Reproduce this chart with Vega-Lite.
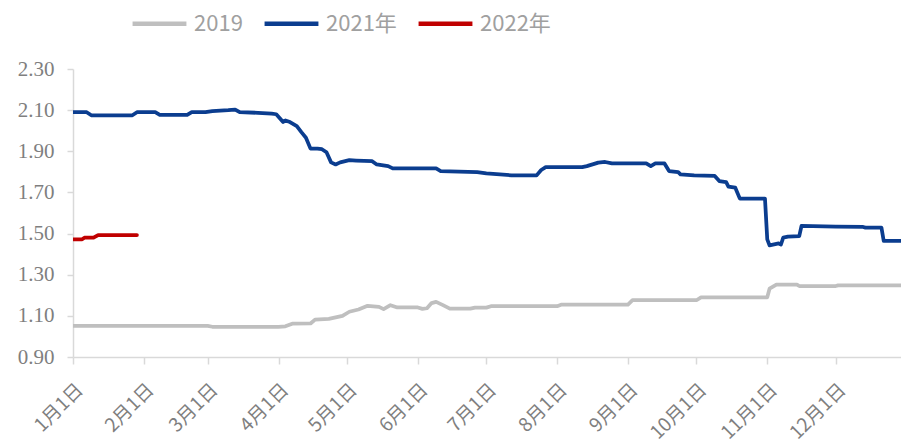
{
  "$schema": "https://vega.github.io/schema/vega-lite/v6.json",
  "width": 829,
  "height": 288,
  "autosize": {"type": "none"},
  "padding": {"left": 73, "top": 69, "right": 0, "bottom": 87},
  "background": "white",
  "config": {"view": {"stroke": null}},
  "data": {
    "values": [
      {"series": "2019", "date": "2021-01-01", "value": 1.051},
      {"series": "2019", "date": "2021-03-01", "value": 1.051},
      {"series": "2019", "date": "2021-03-03", "value": 1.047},
      {"series": "2019", "date": "2021-04-01", "value": 1.047},
      {"series": "2019", "date": "2021-04-04", "value": 1.049},
      {"series": "2019", "date": "2021-04-07", "value": 1.062},
      {"series": "2019", "date": "2021-04-15", "value": 1.063},
      {"series": "2019", "date": "2021-04-17", "value": 1.082},
      {"series": "2019", "date": "2021-04-23", "value": 1.085},
      {"series": "2019", "date": "2021-04-29", "value": 1.1},
      {"series": "2019", "date": "2021-05-02", "value": 1.12},
      {"series": "2019", "date": "2021-05-06", "value": 1.131},
      {"series": "2019", "date": "2021-05-10", "value": 1.149},
      {"series": "2019", "date": "2021-05-15", "value": 1.144},
      {"series": "2019", "date": "2021-05-17", "value": 1.133},
      {"series": "2019", "date": "2021-05-20", "value": 1.152},
      {"series": "2019", "date": "2021-05-23", "value": 1.141},
      {"series": "2019", "date": "2021-06-01", "value": 1.141},
      {"series": "2019", "date": "2021-06-03", "value": 1.134},
      {"series": "2019", "date": "2021-06-05", "value": 1.137},
      {"series": "2019", "date": "2021-06-07", "value": 1.162},
      {"series": "2019", "date": "2021-06-09", "value": 1.168},
      {"series": "2019", "date": "2021-06-12", "value": 1.152},
      {"series": "2019", "date": "2021-06-15", "value": 1.135},
      {"series": "2019", "date": "2021-06-24", "value": 1.135},
      {"series": "2019", "date": "2021-06-26", "value": 1.14},
      {"series": "2019", "date": "2021-07-01", "value": 1.14},
      {"series": "2019", "date": "2021-07-03", "value": 1.147},
      {"series": "2019", "date": "2021-08-01", "value": 1.147},
      {"series": "2019", "date": "2021-08-03", "value": 1.155},
      {"series": "2019", "date": "2021-09-01", "value": 1.155},
      {"series": "2019", "date": "2021-09-03", "value": 1.176},
      {"series": "2019", "date": "2021-10-01", "value": 1.176},
      {"series": "2019", "date": "2021-10-03", "value": 1.19},
      {"series": "2019", "date": "2021-11-01", "value": 1.19},
      {"series": "2019", "date": "2021-11-02", "value": 1.232},
      {"series": "2019", "date": "2021-11-05", "value": 1.252},
      {"series": "2019", "date": "2021-11-14", "value": 1.252},
      {"series": "2019", "date": "2021-11-15", "value": 1.245},
      {"series": "2019", "date": "2021-12-01", "value": 1.245},
      {"series": "2019", "date": "2021-12-02", "value": 1.248},
      {"series": "2019", "date": "2021-12-30", "value": 1.248},

      {"series": "2021年", "date": "2021-01-01", "value": 2.09},
      {"series": "2021年", "date": "2021-01-07", "value": 2.09},
      {"series": "2021年", "date": "2021-01-09", "value": 2.075},
      {"series": "2021年", "date": "2021-01-27", "value": 2.075},
      {"series": "2021年", "date": "2021-01-29", "value": 2.09},
      {"series": "2021年", "date": "2021-02-06", "value": 2.09},
      {"series": "2021年", "date": "2021-02-08", "value": 2.077},
      {"series": "2021年", "date": "2021-02-20", "value": 2.077},
      {"series": "2021年", "date": "2021-02-22", "value": 2.09},
      {"series": "2021年", "date": "2021-02-28", "value": 2.09},
      {"series": "2021年", "date": "2021-03-03", "value": 2.095},
      {"series": "2021年", "date": "2021-03-10", "value": 2.1},
      {"series": "2021年", "date": "2021-03-13", "value": 2.103},
      {"series": "2021年", "date": "2021-03-15", "value": 2.09},
      {"series": "2021年", "date": "2021-03-23", "value": 2.087},
      {"series": "2021年", "date": "2021-03-29", "value": 2.083},
      {"series": "2021年", "date": "2021-03-31", "value": 2.08},
      {"series": "2021年", "date": "2021-04-03", "value": 2.042},
      {"series": "2021年", "date": "2021-04-04", "value": 2.05},
      {"series": "2021年", "date": "2021-04-06", "value": 2.042},
      {"series": "2021年", "date": "2021-04-09", "value": 2.022},
      {"series": "2021年", "date": "2021-04-11", "value": 1.993},
      {"series": "2021年", "date": "2021-04-13", "value": 1.966},
      {"series": "2021年", "date": "2021-04-15", "value": 1.913},
      {"series": "2021年", "date": "2021-04-18", "value": 1.913},
      {"series": "2021年", "date": "2021-04-20", "value": 1.91},
      {"series": "2021年", "date": "2021-04-22", "value": 1.895},
      {"series": "2021年", "date": "2021-04-24", "value": 1.846},
      {"series": "2021年", "date": "2021-04-26", "value": 1.836},
      {"series": "2021年", "date": "2021-04-28", "value": 1.846},
      {"series": "2021年", "date": "2021-05-02", "value": 1.857},
      {"series": "2021年", "date": "2021-05-05", "value": 1.855},
      {"series": "2021年", "date": "2021-05-12", "value": 1.852},
      {"series": "2021年", "date": "2021-05-14", "value": 1.836},
      {"series": "2021年", "date": "2021-05-19", "value": 1.828},
      {"series": "2021年", "date": "2021-05-21", "value": 1.817},
      {"series": "2021年", "date": "2021-06-09", "value": 1.817},
      {"series": "2021年", "date": "2021-06-11", "value": 1.804},
      {"series": "2021年", "date": "2021-06-27", "value": 1.799},
      {"series": "2021年", "date": "2021-07-01", "value": 1.793},
      {"series": "2021年", "date": "2021-07-12", "value": 1.783},
      {"series": "2021年", "date": "2021-07-23", "value": 1.783},
      {"series": "2021年", "date": "2021-07-25", "value": 1.809},
      {"series": "2021年", "date": "2021-07-27", "value": 1.823},
      {"series": "2021年", "date": "2021-08-12", "value": 1.823},
      {"series": "2021年", "date": "2021-08-14", "value": 1.828},
      {"series": "2021年", "date": "2021-08-19", "value": 1.845},
      {"series": "2021年", "date": "2021-08-22", "value": 1.848},
      {"series": "2021年", "date": "2021-08-25", "value": 1.841},
      {"series": "2021年", "date": "2021-09-09", "value": 1.841},
      {"series": "2021年", "date": "2021-09-11", "value": 1.828},
      {"series": "2021年", "date": "2021-09-13", "value": 1.841},
      {"series": "2021年", "date": "2021-09-17", "value": 1.841},
      {"series": "2021年", "date": "2021-09-19", "value": 1.804},
      {"series": "2021年", "date": "2021-09-23", "value": 1.799},
      {"series": "2021年", "date": "2021-09-24", "value": 1.788},
      {"series": "2021年", "date": "2021-09-30", "value": 1.783},
      {"series": "2021年", "date": "2021-10-09", "value": 1.78},
      {"series": "2021年", "date": "2021-10-11", "value": 1.755},
      {"series": "2021年", "date": "2021-10-14", "value": 1.75},
      {"series": "2021年", "date": "2021-10-15", "value": 1.728},
      {"series": "2021年", "date": "2021-10-18", "value": 1.723},
      {"series": "2021年", "date": "2021-10-20", "value": 1.67},
      {"series": "2021年", "date": "2021-10-31", "value": 1.67},
      {"series": "2021年", "date": "2021-11-01", "value": 1.472},
      {"series": "2021年", "date": "2021-11-02", "value": 1.443},
      {"series": "2021年", "date": "2021-11-06", "value": 1.452},
      {"series": "2021年", "date": "2021-11-07", "value": 1.447},
      {"series": "2021年", "date": "2021-11-08", "value": 1.48},
      {"series": "2021年", "date": "2021-11-10", "value": 1.485},
      {"series": "2021年", "date": "2021-11-15", "value": 1.488},
      {"series": "2021年", "date": "2021-11-16", "value": 1.537},
      {"series": "2021年", "date": "2021-12-01", "value": 1.534},
      {"series": "2021年", "date": "2021-12-13", "value": 1.532},
      {"series": "2021年", "date": "2021-12-14", "value": 1.529},
      {"series": "2021年", "date": "2021-12-21", "value": 1.529},
      {"series": "2021年", "date": "2021-12-22", "value": 1.464},
      {"series": "2021年", "date": "2021-12-30", "value": 1.464},

      {"series": "2022年", "date": "2021-01-01", "value": 1.472},
      {"series": "2022年", "date": "2021-01-05", "value": 1.472},
      {"series": "2022年", "date": "2021-01-06", "value": 1.48},
      {"series": "2022年", "date": "2021-01-10", "value": 1.48},
      {"series": "2022年", "date": "2021-01-12", "value": 1.493},
      {"series": "2022年", "date": "2021-01-29", "value": 1.493}
    ]
  },
  "mark": {"type": "line", "strokeWidth": 3.75, "strokeJoin": "round", "strokeCap": "round", "clip": true},
  "encoding": {
    "x": {
      "field": "date",
      "type": "temporal",
      "scale": {
        "type": "utc",
        "domain": [
          {"year": 2021, "month": 1, "date": 1, "utc": true},
          {"year": 2021, "month": 12, "date": 30, "utc": true}
        ]
      },
      "axis": {
        "title": null,
        "grid": false,
        "values": [
          {"year": 2021, "month": 1, "date": 1, "utc": true},
          {"year": 2021, "month": 2, "date": 1, "utc": true},
          {"year": 2021, "month": 3, "date": 1, "utc": true},
          {"year": 2021, "month": 4, "date": 1, "utc": true},
          {"year": 2021, "month": 5, "date": 1, "utc": true},
          {"year": 2021, "month": 6, "date": 1, "utc": true},
          {"year": 2021, "month": 7, "date": 1, "utc": true},
          {"year": 2021, "month": 8, "date": 1, "utc": true},
          {"year": 2021, "month": 9, "date": 1, "utc": true},
          {"year": 2021, "month": 10, "date": 1, "utc": true},
          {"year": 2021, "month": 11, "date": 1, "utc": true},
          {"year": 2021, "month": 12, "date": 1, "utc": true}
        ],
        "labelExpr": "utcFormat(datum.value, '%-m月%-d日')",
        "labelAngle": -45,
        "labelFont": "Noto Sans CJK SC",
        "labelFontSize": 19,
        "labelColor": "#7f7f7f",
        "labelPadding": 16,
        "domainColor": "#d9d9d9",
        "domainWidth": 1.5,
        "tickColor": "#d9d9d9",
        "tickWidth": 1.5,
        "tickSize": 7,
        "labelOverlap": false,
        "labelBound": false,
        "labelFlush": false
      }
    },
    "y": {
      "field": "value",
      "type": "quantitative",
      "scale": {"domain": [0.9, 2.3], "nice": false, "zero": false},
      "axis": {
        "title": null,
        "grid": false,
        "values": [0.9, 1.1, 1.3, 1.5, 1.7, 1.9, 2.1, 2.3],
        "format": ".2f",
        "labelFont": "Liberation Serif",
        "labelFontSize": 21,
        "labelColor": "#7f7f7f",
        "labelPadding": 13,
        "domainColor": "#d9d9d9",
        "domainWidth": 1.5,
        "tickColor": "#d9d9d9",
        "tickWidth": 1.5,
        "tickSize": 6,
        "labelOverlap": false,
        "labelFlush": false
      }
    },
    "color": {
      "field": "series",
      "type": "nominal",
      "scale": {
        "domain": ["2019", "2021年", "2022年"],
        "range": ["#bfbfbf", "#0b3d8f", "#c00000"]
      },
      "legend": {
        "title": null,
        "orient": "none",
        "direction": "horizontal",
        "legendX": 57,
        "legendY": -75,
        "symbolType": "stroke",
        "symbolSize": 2900,
        "symbolStrokeWidth": 4.5,
        "labelFont": "Noto Sans CJK SC",
        "labelFontSize": 22,
        "labelColor": "#a0a0a0",
        "labelOffset": 5,
        "columnPadding": 12
      }
    }
  }
}
